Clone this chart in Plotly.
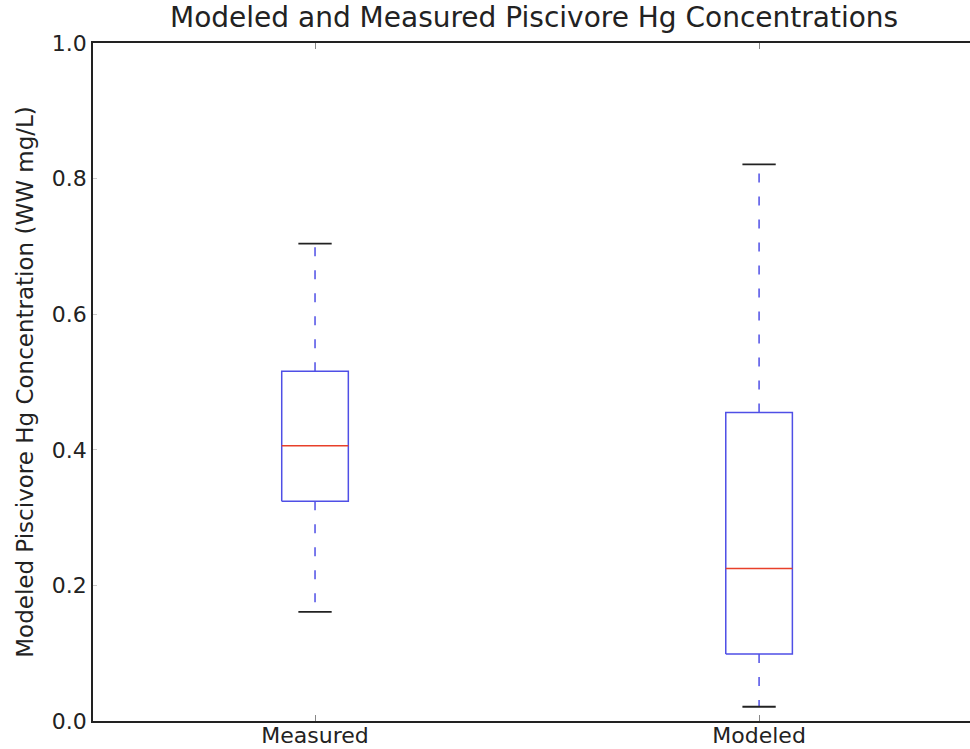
import plotly.graph_objects as go

categories = ["Measured", "Modeled"]
positions = [1, 2]
lower_whisker = [0.161, 0.021]
q1 = [0.324, 0.099]
median = [0.406, 0.225]
q3 = [0.516, 0.455]
upper_whisker = [0.704, 0.821]
y_ticks = [0.0, 0.2, 0.4, 0.6, 0.8, 1.0]

box_half = 0.075
cap_half = 0.0375
blue = "#4f4fe6"
red = "#e8402a"
black = "#222222"

fig = go.Figure()
for i, p in enumerate(positions):
    # box
    fig.add_trace(go.Scatter(
        x=[p - box_half, p + box_half, p + box_half, p - box_half, p - box_half],
        y=[q1[i], q1[i], q3[i], q3[i], q1[i]],
        mode="lines", line=dict(color=blue, width=1.5), hoverinfo="skip", showlegend=False))
    # whiskers
    fig.add_trace(go.Scatter(
        x=[p, p, None, p, p],
        y=[q3[i], upper_whisker[i], None, q1[i], lower_whisker[i]],
        mode="lines", line=dict(color=blue, width=1.5, dash="9px,14px"), hoverinfo="skip", showlegend=False))
    # caps
    fig.add_trace(go.Scatter(
        x=[p - cap_half, p + cap_half, None, p - cap_half, p + cap_half],
        y=[upper_whisker[i], upper_whisker[i], None, lower_whisker[i], lower_whisker[i]],
        mode="lines", line=dict(color=black, width=1.8), hoverinfo="skip", showlegend=False))
    # median
    fig.add_trace(go.Scatter(
        x=[p - box_half, p + box_half],
        y=[median[i], median[i]],
        mode="lines", line=dict(color=red, width=1.5), hoverinfo="skip", showlegend=False))

fig.update_layout(
    width=970, height=749,
    margin=dict(l=93, r=0, t=43, b=28, autoexpand=False),
    paper_bgcolor="white", plot_bgcolor="white",
    font=dict(family="DejaVu Sans", color=black),
    title=dict(text="Modeled and Measured Piscivore Hg Concentrations",
               x=0.503, xanchor="center", xref="paper",
               yref="container", y=1 - 7 / 749, yanchor="top",
               font=dict(size=28, color=black)),
)
fig.update_xaxes(
    range=[0.5, 2.475], tickvals=positions, ticktext=categories, automargin=False,
    showgrid=False, zeroline=False, showline=True, linecolor=black, linewidth=1.5,
    mirror="ticks", ticks="inside", ticklen=6, tickcolor="#888", tickwidth=1,
    tickfont=dict(size=22, color=black), ticklabelstandoff=-6,
)
fig.update_yaxes(
    range=[0, 1], tickvals=y_ticks, ticktext=[f"{v:.1f}" for v in y_ticks], automargin=False,
    showgrid=False, zeroline=False, showline=True, linecolor=black, linewidth=1.5,
    ticks="inside", ticklen=4, tickcolor="#ccc", tickwidth=1,
    tickfont=dict(size=22, color=black),
    title=dict(text="Modeled Piscivore Hg Concentration (WW mg/L)", font=dict(size=23, color=black), standoff=12),
)

fig.write_html("out.html")
